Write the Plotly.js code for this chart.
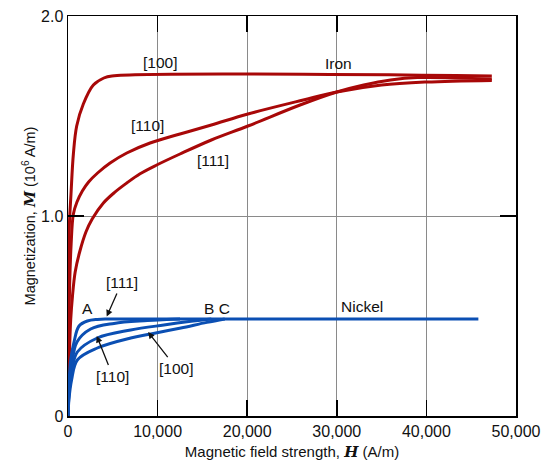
<!DOCTYPE html>
<html>
<head>
<meta charset="utf-8">
<script src="https://cdn.plot.ly/plotly-3.0.1.min.js"></script>
<style>html,body{margin:0;padding:0;background:#fff;}#chart{width:541px;height:470px;}</style>
</head>
<body>
<div id="chart"></div>
<script>
// Iron single-crystal magnetization curves (H in A/m, M in 10^6 A/m)
const ironH100 = [0, 50, 150, 335, 600, 970, 1710, 2830, 4000, 4900, 47300];
const ironM100 = [0, 0.55, 0.95, 1.11, 1.31, 1.45, 1.56, 1.655, 1.69, 1.70, 1.70];
const ironH110 = [0, 60, 180, 350, 600, 1000, 1600, 2300, 3300, 4700, 6560, 9160, 12500, 16000, 20080, 26260, 30000, 35000, 40000, 47300];
const ironM110 = [0, 0.35, 0.65, 0.86, 1.01, 1.07, 1.125, 1.17, 1.215, 1.265, 1.315, 1.365, 1.41, 1.455, 1.51, 1.58, 1.62, 1.655, 1.67, 1.678];
const ironH111 = [0, 60, 150, 300, 500, 800, 1300, 2000, 2700, 3950, 5200, 6560, 8000, 9900, 12500, 16000, 20080, 25900, 30000, 33000, 36000, 39000, 47300];
const ironM111 = [0, 0.15, 0.30, 0.48, 0.60, 0.72, 0.82, 0.92, 0.985, 1.065, 1.118, 1.165, 1.21, 1.255, 1.31, 1.38, 1.45, 1.555, 1.62, 1.655, 1.68, 1.692, 1.685];

// Nickel single-crystal magnetization curves
const niH111 = [0, 100, 300, 670, 1230, 2160, 3270, 4500, 45800];
const niM111 = [0, 0.15, 0.28, 0.37, 0.45, 0.475, 0.483, 0.485, 0.485];
const niH2 = [0, 100, 400, 1000, 2530, 5140, 8860, 11000, 12500];
const niM2 = [0, 0.12, 0.25, 0.37, 0.435, 0.463, 0.477, 0.483, 0.485];
const niH110 = [0, 100, 400, 1040, 3270, 7000, 10700, 13500, 16000];
const niM110 = [0, 0.10, 0.22, 0.32, 0.39, 0.43, 0.455, 0.472, 0.485];
const niH100 = [0, 100, 400, 1040, 3270, 7000, 9240, 12600, 15500, 17500];
const niM100 = [0, 0.08, 0.18, 0.28, 0.34, 0.39, 0.41, 0.44, 0.468, 0.485];

const xTicks = [0, 10000, 20000, 30000, 40000, 50000];
const xTickText = ['0', '10,000', '20,000', '30,000', '40,000', '50,000'];
const yTicks = [0, 1, 2];
const yTickText = ['0', '1.0', '2.0'];

const RED = '#a80808';
const BLUE = '#0b4fb3';

function line(x, y, color) {
  return {x: x, y: y, type: 'scatter', mode: 'lines',
          line: {color: color, width: 3, shape: 'spline', smoothing: 1},
          hoverinfo: 'skip', showlegend: false};
}

const traces = [
  line(ironH100, ironM100, RED),
  line(ironH110, ironM110, RED),
  line(ironH111, ironM111, RED),
  line(niH100, niM100, BLUE),
  line(niH110, niM110, BLUE),
  line(niH2, niM2, BLUE),
  line(niH111, niM111, BLUE)
];

const FONT = 'Liberation Sans, Arial, sans-serif';
const tf = {family: FONT, size: 15.5, color: '#111'};
function txt(x, y, t) {
  return {x: x, y: y, text: t, showarrow: false, font: tf, xanchor: 'center', yanchor: 'middle'};
}
function arrTxt(x, y, ax, ay, t) {
  return {x: x, y: y, ax: ax, ay: ay, text: t, font: tf, showarrow: true, arrowhead: 2,
          arrowsize: 1, arrowwidth: 1.3, arrowcolor: '#111', standoff: 0, startstandoff: 1};
}

const layout = {
  width: 541, height: 470,
  margin: {l: 68, r: 25, t: 16, b: 54},
  paper_bgcolor: '#fff', plot_bgcolor: '#fff',
  font: {family: FONT, size: 16, color: '#111'},
  xaxis: {
    range: [0, 50000], tickvals: xTicks, ticktext: xTickText,
    showgrid: true, gridcolor: '#8a8a8a', gridwidth: 1,
    showline: true, linecolor: '#000', linewidth: 1.5, mirror: 'ticks',
    ticks: 'inside', ticklen: 16, tickcolor: '#000', tickwidth: 1.5,
    zeroline: false, tickfont: {size: 16}, fixedrange: true,
    title: {text: 'Magnetic field strength, <span style="font-family:DejaVu Serif"><i><b>H</b></i></span> (A/m)',
            font: {size: 15}, standoff: 8}
  },
  yaxis: {
    range: [0, 2], tickvals: yTicks, ticktext: yTickText,
    showgrid: true, gridcolor: '#8a8a8a', gridwidth: 1,
    showline: true, linecolor: '#000', linewidth: 1.5, mirror: 'ticks',
    ticks: 'inside', ticklen: 16, tickcolor: '#000', tickwidth: 1.5,
    zeroline: false, tickfont: {size: 16}, fixedrange: true,
    title: {text: 'Magnetization, <span style="font-family:DejaVu Serif"><i><b>M</b></i></span> (10<sup>6</sup> A/m)',
            font: {size: 14.5}, standoff: 2}
  },
  annotations: [
    txt(10300, 1.77, '[100]'),
    txt(30200, 1.765, 'Iron'),
    txt(8900, 1.455, '[110]'),
    txt(16200, 1.28, '[111]'),
    txt(2200, 0.54, 'A'),
    txt(16600, 0.54, 'B C'),
    txt(32800, 0.55, 'Nickel'),
    arrTxt(4320, 0.497, 15, -34, '[111]'),
    arrTxt(3210, 0.40, 16, 40, '[110]'),
    arrTxt(8940, 0.42, 28, 36, '[100]')
  ]
};

Plotly.newPlot('chart', traces, layout, {staticPlot: true, displayModeBar: false});
</script>
</body>
</html>
